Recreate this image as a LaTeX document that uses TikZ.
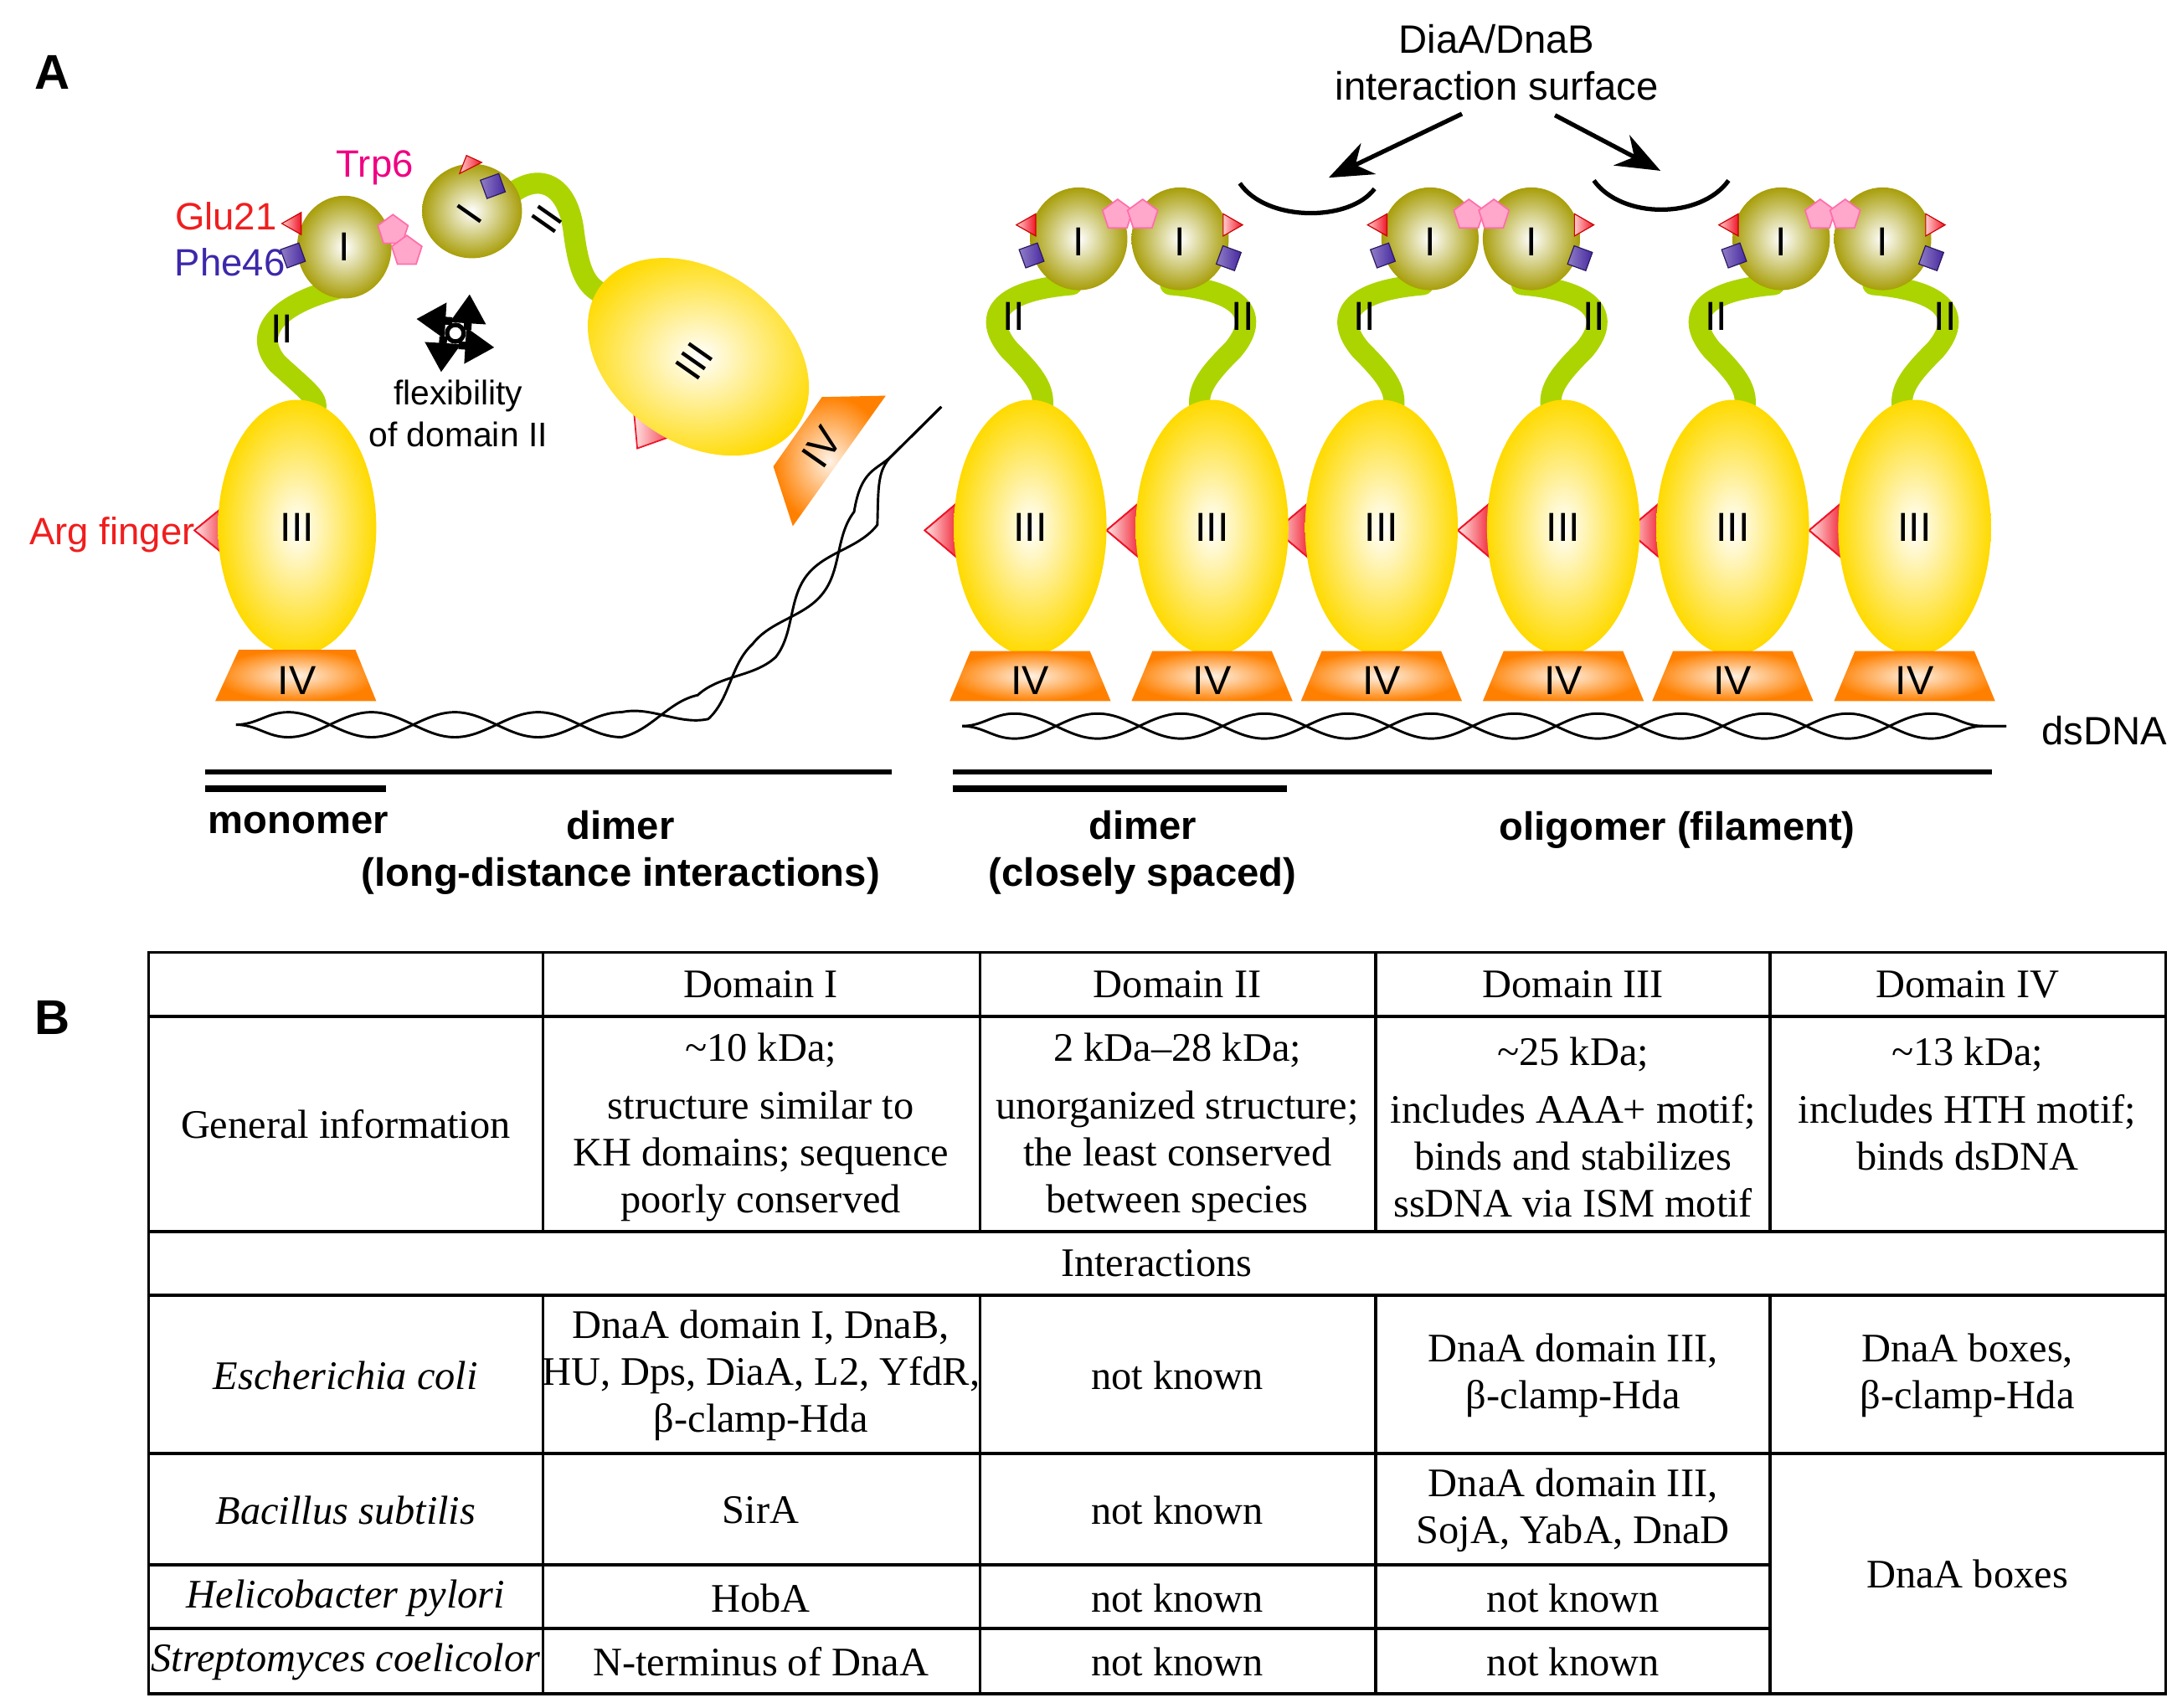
\documentclass[tikz,border=0pt]{standalone}
\usepackage{fontspec}
\newfontfamily\arialf{Liberation Sans}
\newfontfamily\serf{Liberation Serif}
\usetikzlibrary{shapes.geometric,arrows.meta,decorations.pathmorphing}
\definecolor{dgreen}{RGB}{172,212,0}
\definecolor{dolive}{RGB}{168,158,10}
\definecolor{dyel}{RGB}{255,218,0}
\definecolor{dorg}{RGB}{255,128,0}
\definecolor{dred}{RGB}{240,20,40}
\definecolor{dpurp}{RGB}{70,40,160}
\definecolor{dpink}{RGB}{255,110,170}
\definecolor{labred}{RGB}{240,30,30}
\definecolor{labpink}{RGB}{240,0,130}
\definecolor{labpurp}{RGB}{60,40,170}
\tikzset{
 dtwo/.style={draw=dgreen,line width=4.3pt,line cap=round},
 done/.style={shading=radial,inner color=white,outer color=dolive},
 dthree/.style={shading=radial,inner color=white,outer color=dyel},
 dfour/.style={shading=radial,inner color=orange!10,outer color=dorg},
 argtri/.style={left color=red!10,right color=dred,draw=dred,line width=0.3pt},
 smtri/.style={left color=red!20,right color=dred,draw=red!80!black,line width=0.2pt},
 smdia/.style={left color=dpurp!60,right color=dpurp,draw=dpurp!60!black,line width=0.2pt},
 pent/.style={regular polygon,regular polygon sides=5,fill=dpink!60,draw=dpink,line width=0.3pt,inner sep=0pt,minimum size=6.5pt},
 rom/.style={font=\arialf\fontsize{8.3}{9}\selectfont,inner sep=0pt},
 lab/.style={font=\arialf\fontsize{8.1}{9.6}\selectfont,inner sep=0pt,align=center},
 blab/.style={font=\arialf\bfseries\fontsize{8.1}{9.6}\selectfont,inner sep=0pt,align=center},
 strand/.style={draw=black,line width=0.5pt,decorate,decoration={snake,segment length=1.2cm,amplitude=0.09cm}},
 strandm/.style={strand,decoration={snake,segment length=1.2cm,amplitude=0.09cm,mirror}},
 tab/.style={font=\serf\fontsize{8.3}{9.6}\selectfont,align=center,inner sep=0pt},
 grid/.style={line width=0.6pt},
 bar/.style={line width=1.4pt},
 mlab/.style={font=\arialf\fontsize{7.8}{9}\selectfont,inner sep=0pt},
}
\begin{document}
\begin{tikzpicture}[x=0.01cm,y=-0.01cm]
\useasboundingbox (0,0) rectangle (1568,1230);
\node[font=\arialf\bfseries\fontsize{10}{11}\selectfont] (lA) at (38,52) {A};
\node[font=\arialf\bfseries\fontsize{10}{11}\selectfont] (lB) at (38,733) {B};

% ---------- left: monomer + long distance dimer
\draw[dtwo] (243,208) .. controls (190,222) and (185,245) .. (200,262) .. controls (225,285) and (232,288) .. (225,300);
\draw[dtwo] (362,145) .. controls (385,122) and (408,130) .. (413,165) .. controls (418,205) and (425,215) .. (458,215);
\shade[done] (248,178) ellipse [x radius=34,y radius=37];
\shade[done] (340,152) ellipse [x radius=36,y radius=34];
\node[rom] (m1I) at (248,178) {I};
\node[rom,rotate=55] (m2I) at (338,154) {I};
\node[rom] (m1II) at (203,237) {II};
\node[rom,rotate=55] (m2II) at (394,158) {II};
\shade[argtri] (140,382) -- (167,360) -- (167,404) -- cycle;
\draw[dred,line width=0.3pt] (140,382) -- (167,360) -- (167,404) -- cycle;
\shade[dthree] (214,380) ellipse [x radius=57,y radius=92];
\node[rom] (m1III) at (214,380) {III};
\shade[dfour] (172,468) -- (256,468) -- (271,505) -- (155,505) -- cycle;
\node[rom] (m1IV) at (214,490) {IV};
\filldraw[argtri] (456,290) -- (459,323) -- (490,312) -- cycle;
\shade[dthree] (503,257) ellipse [x radius=87,y radius=62,rotate=-35];
\node[rom,rotate=55] (m2III) at (500,260) {III};
\shade[dfour] (592,286) -- (638,285) -- (571,379) -- (557,336) -- cycle;
\node[rom,rotate=55] (m2IV) at (592,322) {IV};
% small markers left
\filldraw[smtri,shift={(211,161)}] (-8,0) -- (6,-8) -- (6,8) -- cycle;
\filldraw[smdia,shift={(211,184)},rotate=20] (-7,-7) rectangle (7,7);
\node[pent] (p1) at (283,166) {};
\node[pent] (p2) at (293,181) {};
\filldraw[smtri,shift={(337,119)}] (-6,6) -- (-1,-7) -- (10,-2) -- cycle;
\filldraw[smdia,shift={(355,134)},rotate=20] (-7,-7) rectangle (7,7);
\node[mlab,text=labred,anchor=east] (gl) at (200,156) {Glu21};
\node[mlab,text=labpurp,anchor=east] (ph) at (206,189) {Phe46};
\node[mlab,text=labpink] (tr) at (270,121) {Trp6};
\node[mlab,text=labred,anchor=east] (ar) at (141,385) {Arg finger};
% flexibility symbol
\coordinate (fc) at (328,240);
\foreach \a in {20,110,200,290}{
  \draw[line width=1.6pt,-{Triangle[length=6pt,width=7pt]}] ([shift={(\a+55:9)}]fc) -- ([shift={(\a:30)}]fc);
}
\draw[line width=0.9pt] (fc) circle [radius=6];
\node[font=\arialf\fontsize{7}{8.6}\selectfont,align=center] (flx) at (330,298) {flexibility\\of domain II};
% left DNA
\draw[strand] (170,522) -- (440,522) .. controls (500,515) and (540,440) .. (585,385) -- (678,293);
\draw[strandm] (170,522) -- (440,522) .. controls (500,515) and (540,440) .. (585,385) -- (678,293);

% ---------- right: filament
\foreach \a in {742,995,1248}{
  \pgfmathsetmacro\b{\a+131}
  \draw[dtwo] (\a+30,205) .. controls (\a-30,210) and (\a-32,232) .. (\a-15,252) .. controls (\a+5,272) and (\a+12,282) .. (\a+8,298);
  \draw[dtwo] (\b-30,205) .. controls (\b+30,210) and (\b+32,232) .. (\b+15,252) .. controls (\b-5,272) and (\b-12,282) .. (\b-8,298);
}
\foreach \c in {742,873,995,1126,1248,1379}{
  \shade[argtri] (\c-76,382) -- (\c-50,360) -- (\c-50,404) -- cycle;
  \draw[dred,line width=0.3pt] (\c-76,382) -- (\c-50,360) -- (\c-50,404) -- cycle;
}
\foreach \c in {742,873,995,1126,1248,1379}{
  \shade[dthree] (\c,380) ellipse [x radius=55,y radius=92];
  \node[rom] (III\c) at (\c,380) {III};
  \shade[dfour] (\c-43,469) -- (\c+43,469) -- (\c+58,505) -- (\c-58,505) -- cycle;
  \node[rom] (IV\c) at (\c,490) {IV};
}
\foreach \a in {742,995,1248}{
  \pgfmathsetmacro\b{\a+131}
  \shade[done] (\a+35,172) ellipse [x radius=35,y radius=37];
  \shade[done] (\a+108,172) ellipse [x radius=35,y radius=37];
  \node[rom] (Ia\a) at (\a+35,174) {I};
  \node[rom] (Ib\a) at (\a+108,174) {I};
  \node[rom] (IIa\a) at (\a-12,228) {II};
  \node[rom] (IIb\a) at (\b+22,228) {II};
  \node[pent] (pa\a) at (\a+63,155) {};
  \node[pent] (pb\a) at (\a+81,155) {};
  \filldraw[smtri,shift={(\a-2,162)}] (-8,0) -- (6,-8) -- (6,8) -- cycle;
  \filldraw[smtri,shift={(\a+145,162)}] (8,0) -- (-6,-8) -- (-6,8) -- cycle;
  \filldraw[smdia,shift={(\a+1,184)},rotate=20] (-7,-7) rectangle (7,7);
  \filldraw[smdia,shift={(\a+143,186)},rotate=-20] (-7,-7) rectangle (7,7);
}
\draw[strand] (693,523) -- (1445,523);
\draw[strandm] (693,523) -- (1445,523);
\node[lab,anchor=west] (ds) at (1470,526) {dsDNA};
% interaction surface
\node[lab] (dia) at (1078,45) {DiaA/DnaB\\interaction surface};
\draw[line width=0.9pt] (893,132) .. controls (912,160) and (972,160) .. (990,136);
\draw[line width=0.9pt] (1148,130) .. controls (1168,158) and (1225,158) .. (1245,130);
\coordinate (t1) at (957,128);
\coordinate (t2) at (1196,123);
\draw[line width=0.9pt,-{Stealth[length=9pt,width=7pt]}] (1053,82) -- (t1);
\draw[line width=0.9pt,-{Stealth[length=9pt,width=7pt]}] (1120,83) -- (t2);
% bars and labels
\draw[bar] (148,568) -- (278,568);
\draw[line width=1.1pt] (148,556) -- (642,556);
\draw[line width=1.1pt] (686,556) -- (1435,556);
\draw[bar] (686,568) -- (927,568);
\node[blab] (mon) at (215,593) {monomer};
\node[blab] (dim1) at (447,614) {dimer\\(long-distance interactions)};
\node[blab] (dim2) at (823,614) {dimer\\(closely spaced)};
\node[blab] (olig) at (1208,598) {oligomer (filament)};

% ---------- table
\draw[grid] (107,686) rectangle (1560,1220);
\foreach \y in {732,887,933,1047} \draw[grid] (107,\y) -- (1560,\y);
\foreach \y in {1127,1173} \draw[grid] (107,\y) -- (1275,\y);
\foreach \x in {391,706,991,1275}{
  \draw[grid] (\x,686) -- (\x,887);
  \draw[grid] (\x,933) -- (\x,1220);
}
\node[tab] (h1) at (548,709) {Domain I};
\node[tab] (h2) at (848,709) {Domain II};
\node[tab] (h3) at (1133,709) {Domain III};
\node[tab] (h4) at (1417,709) {Domain IV};
\node[tab] (g0) at (249,810) {General information};
\node[tab] (g1) at (548,812) {\textasciitilde10 kDa;\\[2.3pt]structure similar to\\KH domains; sequence\\poorly conserved};
\node[tab] (g2) at (848,812) {2 kDa–28 kDa;\\[2.3pt]unorganized structure;\\the least conserved\\between species};
\node[tab] (g3) at (1133,812) {\textasciitilde25 kDa;\\[2.3pt]includes AAA+ motif;\\binds and stabilizes\\ssDNA via ISM motif};
\node[tab] (g4) at (1417,795) {\textasciitilde13 kDa;\\[2.3pt]includes HTH motif;\\binds dsDNA};
\node[tab] (int) at (833,910) {Interactions};
\node[tab] (e0) at (249,991) {\itshape Escherichia coli};
\node[tab] (e1) at (548,991) {DnaA domain I, DnaB,\\HU, Dps, DiaA, L2, YfdR,\\β-clamp-Hda};
\node[tab] (e2) at (848,991) {not known};
\node[tab] (e3) at (1133,991) {DnaA domain III,\\β-clamp-Hda};
\node[tab] (e4) at (1417,991) {DnaA boxes,\\β-clamp-Hda};
\node[tab] (b0) at (249,1088) {\itshape Bacillus subtilis};
\node[tab] (b1) at (548,1088) {SirA};
\node[tab] (b2) at (848,1088) {not known};
\node[tab] (b3) at (1133,1088) {DnaA domain III,\\SojA, YabA, DnaD};
\node[tab] (hp0) at (249,1151) {\itshape Helicobacter pylori};
\node[tab] (hp1) at (548,1151) {HobA};
\node[tab] (hp2) at (848,1151) {not known};
\node[tab] (hp3) at (1133,1151) {not known};
\node[tab] (s0) at (249,1197) {\itshape Streptomyces coelicolor};
\node[tab] (s1) at (548,1197) {N-terminus of DnaA};
\node[tab] (s2) at (848,1197) {not known};
\node[tab] (s3) at (1133,1197) {not known};
\node[tab] (bx) at (1417,1134) {DnaA boxes};
\end{tikzpicture}
\end{document}
